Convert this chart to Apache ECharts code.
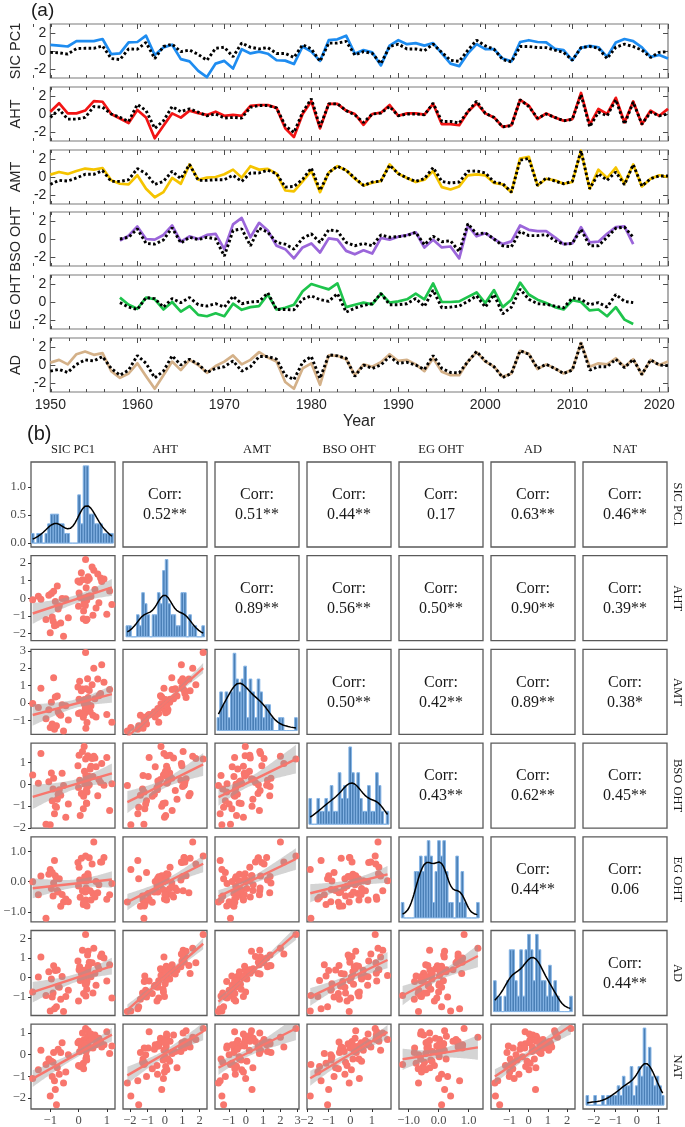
<!DOCTYPE html>
<html>
<head>
<meta charset="utf-8">
<title>SIC PC1 drivers</title>
<script src="https://cdn.jsdelivr.net/npm/echarts@6.0.0/dist/echarts.min.js"></script>
<style>html,body{margin:0;padding:0;background:#fff;}#c{width:685px;height:1127px;}</style>
</head>
<body>
<div id="c"></div>
<script>
// ---------------- Part (a): yearly series ----------------
const yearStartA = 1950;   // SIC PC1, AHT, AMT, AD start
const yearStartOHT = 1958; // BSO OHT, EG OHT start
const xTickYears = [1950, 1960, 1970, 1980, 1990, 2000, 2010, 2020];
const yTicksA = [-2, 0, 2];

const sicLine = [0.69,0.6,0.5,1.1,1.1,1.1,1.33,-0.35,-0.27,0.95, 1.0,1.7,-0.45,0.4,0.7,-0.9,-1.15,-2.2,-2.9,-1.4, -1.1,-1.95,0.2,-0.27,-0.07,-0.3,-1.03,-1.07,-1.45,0.5, -0.07,-1.1,1.2,1.3,1.7,-0.3,0.1,-0.15,-1.6,0.6, 1.2,0.76,0.88,0.6,0.88,-0.27,-1.4,-1.68,-0.27,0.76, 0.2,0.2,-0.84,-1.15,1.0,1.2,1.0,0.95,0.23,0.1, -1.03,0.35,0.57,0.42,-0.65,0.95,1.33,1.1,0.4,-0.65, -0.45,-0.84];
const sicDotted = [-0.15,-0.2,-0.35,0.27,0.3,0.3,0.57,-0.84,-0.95,0.23, 0.2,0.95,-0.84,0.5,0.76,-0.07,0.1,-0.38,-1.03,0.3, 0.42,-0.65,0.88,0.42,0.23,0.38,-0.27,-0.27,-0.72,0.69, 0.23,-1.15,0.88,0.88,1.07,-0.45,-0.07,-0.27,-1.4,0.5, 0.76,0.23,0.23,0.04,0.76,-0.15,-1.03,-1.15,0.1,1.2, 0.57,0.2,-0.95,-1.2,0.5,0.5,0.38,0.38,0.1,-0.15, -1.03,0.38,0.5,0.3,-0.84,0.42,0.76,0.5,0.1,-0.72, -0.15,-0.07];
const ahtLine = [0.26,1.2,0.07,0.07,0.38,1.43,1.36,0,-0.5,-1.0, 0.45,-0.38,-2.7,-1.3,0.07,-0.4,0.38,0.1,-0.1,0.26, -0.2,-0.1,-0.2,0.9,1.0,1.0,0.68,-1.58,-2.57,0, 1.43,-1.6,1.13,1.13,0.38,0,-1.2,0,0.15,1.0, -0.2,0.07,0.07,-0.07,1.13,-1.13,-1.13,-1.25,0.26,1.2, 0.07,-0.38,-1.43,-1.25,1.58,0.94,-0.57,0.07,-0.38,-0.75, -0.57,2.34,-1.2,0.57,0,1.8,-0.94,1.4,-1.13,0.38, -0.2,0.57];
const ahtDotted = [-0.38,0.5,-0.57,-0.57,-0.38,0.83,0.75,0,-0.38,-0.83, 1.06,0.38,-1.6,-0.75,0.83,0.26,0.57,0.2,-0.2,0, -0.45,-0.38,-0.45,0.75,0.94,0.94,0.68,-1.3,-2.07,0.2, 1.7,-1.43,1.13,1.13,0.38,-0.1,-0.94,0,0.1,0.83, -0.2,0,0,-0.1,1.2,-0.83,-0.83,-1.0,0.26,1.43, 0.07,-0.38,-1.43,-1.3,1.58,0.83,-0.45,0,-0.38,-0.75, -0.6,2.15,-1.43,0.2,-0.2,1.58,-1.13,1.32,-1.13,0.2, -0.2,0];
const amtLine = [0.26,0.56,0.34,0.67,0.94,0.82,1.0,-0.37,-0.75,-0.82, 0.19,-1.3,-2.25,-1.68,-0.11,-0.75,1.39,-0.3,-0.07,0, 0.3,0.82,-0.07,1.2,0.82,0.9,0.37,-1.5,-1.6,-0.49, 0.67,-1.68,0.49,1.2,0.75,-0.19,-0.94,-0.64,-0.45,1.39, 0.37,-0.11,-0.56,-0.3,0.67,-1.12,-1.39,-1.05,0.19,0.3, 0.19,-0.67,-0.82,-1.68,2.06,2.25,-0.94,-0.19,-0.37,-0.75, -0.56,2.92,-1.3,0.82,-0.11,1.05,-0.75,1.39,-1.05,-0.19, 0.19,0];
const amtDotted = [-0.82,-0.37,-0.45,-0.11,0.3,0.3,0.71,-0.49,-0.49,-0.3, 0.94,0.37,-0.82,-0.49,0.64,-0.19,1.39,-0.37,-0.37,-0.3, -0.3,0.19,-0.49,0.45,0.45,0.75,0.37,-1.12,-1.05,-0.26, 1.0,-1.5,0.49,1.2,0.75,-0.11,-0.94,-0.56,-0.45,1.31, 0.37,-0.11,-0.49,-0.19,1.05,-0.49,-0.67,-0.56,0.64,0.67, 0.45,-0.56,-0.75,-1.68,1.87,2.06,-0.94,-0.11,-0.45,-0.75, -0.49,2.92,-1.3,0.37,-0.37,0.56,-0.86,1.39,-1.01,-0.19, 0.11,0.11];
const bsoLine = [-0.19,0.38, 1.4,0,-0.07,0.45,1.5,-0.3,0.3,0,0.45,0.57, -1.13,1.62,2.34,0.19,1.8,0.94,-0.75,-1.13,-2.15,-0.94, -0.49,-1.5,0.07,-0.07,-1.32,-1.7,-1.25,-1.62,0.11,-0.07, 0.26,0.45,0.75,-0.94,-0.07,-0.94,-0.83,-2.15,1.5,0.3, 0.64,0,-0.57,-0.26,1.5,1.02,0.87,0.87,0.19,-0.57, -0.49,1.32,-0.38,-0.3,0.57,1.32,1.4,-0.57];
const bsoDotted = [0,0.19, 1.13,-0.49,-0.57,-0.11,1.25,-0.45,0.19,-0.07,0.19,0, -1.89,0.94,1.13,-0.75,1.2,0.75,-0.38,-0.57,-1.13,0.07, 0.57,-0.38,1.02,0.87,-0.38,-0.75,-0.49,-0.75,0.45,0.19, 0.26,0.38,0.75,-0.64,0.3,-0.3,-0.19,-1.4,1.7,0.57, 0.68,0,-0.75,-0.87,0.83,0.38,0.38,0.49,-0.19,-0.57, -0.49,1.06,-0.75,-0.75,0.19,1.2,1.32,0.19];
const egLine = [0.49,-0.3, -0.75,0.49,0.3,-0.83,0,-1.06,-0.45,-1.43,-1.58,-1.25, -1.58,-0.19,-0.87,-0.57,-0.45,0.83,-0.83,-0.64,-0.3,1.2, 2.0,1.7,1.4,2.07,-0.57,-0.3,-0.07,-0.26,0.94,-0.07, 0.07,0.3,0.94,0.3,2.07,0,0,0.07,0.57,1.06, -0.11,1.32,-0.57,0.26,2.15,0.83,0.26,-0.11,-0.57,-0.83, 0.19,0,-0.94,-0.83,-1.58,-0.57,-1.96,-2.45];
const egDotted = [-0.07,-0.57, -0.83,0.49,0.38,-0.57,0.38,-0.07,0.49,-0.3,-0.45,-0.19, -0.57,0.64,-0.19,0,0.07,1.02,-0.83,-0.83,-0.87,0.3, 0.68,0.26,0.07,0.94,-1.13,-0.68,-0.38,-0.19,0.94,-0.3, -0.3,-0.19,0.38,-0.49,1.32,-0.64,-0.57,-0.45,0.07,0.68, -0.57,0.83,-1.32,-0.57,1.43,0.3,-0.19,-0.26,-0.45,-0.64, 0.45,0.3,-0.3,-0.07,-0.57,0.83,0.07,-0.07];
const adLine = [0.26,0.57,0.07,1.2,1.5,1.13,1.32,-0.68,-1.43,-0.94, 0.19,-1.25,-2.64,-1.13,0.38,-0.57,0.57,0,-0.87,-0.11, 0.38,1.06,0.07,0.57,1.43,0.83,0.38,-1.89,-2.64,-0.38, 0.19,-2.2,1.06,1.02,0.64,-1.13,0.07,-0.19,0.3,1.2, 0.45,0.57,0.07,-0.68,0.75,-0.75,-1.13,-1.13,0.38,1.43, 0.38,-0.19,-1.32,-0.94,1.58,1.25,-0.45,0.07,-0.38,-0.94, -0.49,2.45,-0.19,0.19,0.07,0.75,-0.19,0.64,-1.06,0.57, 0,0.38];
const adDotted = [-0.68,-0.49,-0.83,0.07,0.57,0.45,0.94,-0.38,-1.13,-0.57, 1.06,0.19,-1.43,-0.68,1.02,0,0.64,0.11,-0.83,-0.38, -0.19,0.45,-0.68,-0.19,0.94,0.94,0.64,-1.13,-1.62,0.3, 0.94,-1.5,1.13,1.02,0.75,-1.25,0,-0.38,0,0.94, 0.19,0.3,0,-0.49,1.06,-0.38,-0.83,-0.87,0.38,1.5, 0.45,-0.19,-1.4,-0.94,1.58,1.2,-0.38,0.07,-0.38,-0.94, -0.57,2.45,-0.57,-0.19,-0.19,0.64,-0.3,0.64,-1.06,0.57, 0,-0.07];

// ---------------- Part (b): standardized values 1958-2017 ----------------
const sicB = [0.0,0.51, 0.58,1.18,-0.53,0.26,0.33,-0.68,-0.88,-1.42,-1.62,-0.96, -0.82,-1.33,0.2,0.04,0.14,-0.02,-0.75,-0.78,-1.0,0.28, 0.1,-0.85,0.78,0.9,1.1,-0.45,0.17,0.06,-1.05,0.32, 0.72,0.35,0.41,0.29,0.38,-0.36,-0.93,-1.15,0.02,0.34, 0.21,0.22,-0.63,-0.9,0.54,0.82,0.62,0.44,0.24,0.18, -0.72,0.25,0.3,0.27,-0.58,0.48,1.0,0.68];
const ahtB = [-0.45,-0.95, 0.5,-0.35,-2.15,-1.25,0.1,-0.42,0.4,0.12,-0.08,0.28, -0.18,-0.05,-0.22,0.92,1.05,0.98,0.7,-1.5,-1.95,0.02, 1.45,-1.55,1.15,1.1,0.42,-0.02,-1.15,0.05,0.18,1.02, -0.25,0.08,0.15,-0.1,1.12,-1.1,-1.05,-1.2,0.3,1.22, 0.04,-0.35,-1.4,-1.28,1.6,0.95,-0.55,0.1,-0.4,-0.72, -0.6,2.2,-1.18,0.6,0.0,1.78,-0.9,1.38];
const amtB = [-0.6,-0.7, 0.25,-1.1,-1.6,-1.45,-0.05,-0.62,1.45,-0.25,-0.02,0.05, 0.35,0.85,-0.04,1.25,0.8,0.92,0.4,-1.3,-1.4,-0.4, 0.7,-1.5,0.55,1.2,0.78,-0.15,-0.82,-0.55,-0.38,1.4, 0.42,-0.08,-0.48,-0.28,0.72,-0.98,-1.2,-0.9,0.22,0.32, 0.2,-0.58,-0.7,-1.35,2.0,2.2,-0.8,-0.15,-0.32,-0.65, -0.5,2.9,-1.12,0.82,-0.1,1.05,-0.66,1.38];
const bsoB = [-0.15,0.35, 1.2,0.02,-0.05,0.4,1.3,-0.25,0.28,0.05,0.42,0.52, -1.0,1.4,1.72,0.18,1.5,0.85,-0.68,-1.05,-1.85,-0.85, -0.42,-1.35,0.08,-0.04,-1.2,-1.5,-1.12,-1.42,0.12,-0.1, 0.22,0.38,0.7,-0.88,-0.02,-0.9,-0.75,-1.82,1.32,0.25, 0.6,0.0,-0.5,-0.22,1.28,0.95,0.8,0.82,0.15,-0.55, -0.45,1.15,-0.35,-0.28,0.5,1.18,1.22,-0.52];
const egB = [-0.14,-0.39, -0.5,-0.06,-0.67,-0.6,0.26,0.1,-0.04,-0.43,0.0,-0.22, 0.2,0.19,0.03,0.06,-0.3,0.63,-0.29,0.1,0.4,0.02, 0.77,0.7,0.65,0.8,-0.43,-0.57,-0.75,-0.51,0.25,0.17, -0.1,0.1,-0.3,-0.26,0.79,-0.66,0.3,-1.2,0.48,0.2, 0.03,0.16,-0.81,-0.47,1.31,0.65,0.01,-0.6,-0.34,-0.68, -0.34,0.85,-0.8,-0.21,-0.42,0.58,-0.58,-0.36];
const adB = [-1.2,-0.8, 0.22,-1.05,-1.75,-0.95,0.4,-0.5,0.6,0.02,-0.75,-0.08, 0.36,1.05,0.1,0.55,1.4,0.85,0.38,-1.5,-1.72,-0.32, 0.2,-1.6,1.08,1.0,0.65,-0.98,0.08,-0.15,0.3,1.15, 0.45,0.58,0.06,-0.6,0.78,-0.65,-1.0,-0.92,0.4,1.35, 0.37,-0.17,-1.12,-0.8,1.5,1.2,-0.4,0.04,-0.35,-0.82, -0.45,2.2,-0.2,0.18,0.05,0.75,-0.18,0.62];
const natB = [-0.5,0.3, 0.9,0.4,-1.3,-0.2,0.85,-0.9,0.1,-0.7,-1.1,-0.3, -1.6,0.2,0.7,0.15,1.0,0.55,-0.6,-2.3,-1.9,-0.1, 0.35,-1.2,0.6,0.45,0.05,-0.8,-0.4,-0.55,-0.2,0.5, 0.75,0.4,0.65,-0.25,0.3,0.0,-1.0,-0.45,0.62,1.1, 0.2,0.5,0.1,-0.35,0.8,0.35,0.45,0.95,0.4,-0.65, 0.25,1.2,0.3,0.15,0.55,0.7,1.05,0.58];

const varNames = ['SIC PC1', 'AHT', 'AMT', 'BSO OHT', 'EG OHT', 'AD', 'NAT'];
const varTicks = [[-1,0,1], [-2,-1,0,1,2], [-1,0,1,2,3], [-2,-1,0,1], [-1,0,1], [-1,0,1,2], [-2,-1,0,1]];
const varTickDecimals = [0, 0, 0, 0, 1, 0, 0];
const densityTicks = [0, 0.5, 1.0];
const corrRows = [
  ['0.52**','0.51**','0.44**','0.17','0.63**','0.46**'],
  ['0.89**','0.56**','0.50**','0.90**','0.39**'],
  ['0.50**','0.42**','0.89**','0.38*'],
  ['0.43**','0.62**','0.45**'],
  ['0.44**','0.06'],
  ['0.44**']
];

// ---------------- helpers ----------------
const pairs = (arr, start) => arr.map((v, i) => [start + i, v]);
const mean = a => a.reduce((s, v) => s + v, 0) / a.length;
const sdev = a => { const m = mean(a); return Math.sqrt(a.reduce((s, v) => s + (v - m) * (v - m), 0) / (a.length - 1)); };
function quantile(a, p) { const s = [...a].sort((x, y) => x - y); const h = (s.length - 1) * p; const lo = Math.floor(h); const hi = Math.min(lo + 1, s.length - 1); return s[lo] + (h - lo) * (s[hi] - s[lo]); }
function kde(a) {
  const n = a.length;
  const bw = 0.9 * Math.min(sdev(a), (quantile(a, 0.75) - quantile(a, 0.25)) / 1.34) * Math.pow(n, -0.2);
  const mn = Math.min(...a), mx = Math.max(...a), out = [];
  for (let i = 0; i <= 120; i++) {
    const x = mn + (mx - mn) * i / 120; let s = 0;
    for (const v of a) { const z = (x - v) / bw; s += Math.exp(-0.5 * z * z); }
    out.push([x, s / (n * bw * Math.sqrt(2 * Math.PI))]);
  }
  return out;
}
function hist(a, bins) {
  const mn = Math.min(...a), mx = Math.max(...a), n = a.length;
  const w = (mx - mn) / (bins - 1), start = mn - w / 2;
  const counts = new Array(bins).fill(0);
  for (const v of a) { let k = Math.ceil((v - start) / w - 1e-9) - 1; k = Math.max(0, Math.min(bins - 1, k)); counts[k]++; }
  return counts.map((c, k) => [start + k * w, start + (k + 1) * w, c / (n * w)]);
}
function regression(xs, ys) {
  const n = xs.length, mx = mean(xs), my = mean(ys);
  let sxx = 0, sxy = 0;
  for (let i = 0; i < n; i++) { sxx += (xs[i] - mx) ** 2; sxy += (xs[i] - mx) * (ys[i] - my); }
  const b = sxy / sxx, a0 = my - b * mx;
  let sse = 0; for (let i = 0; i < n; i++) sse += (ys[i] - a0 - b * xs[i]) ** 2;
  const s = Math.sqrt(sse / (n - 2)), t = 2.0017;
  const x0 = Math.min(...xs), x1 = Math.max(...xs);
  const up = [], lo = [];
  for (let i = 0; i <= 60; i++) {
    const x = x0 + (x1 - x0) * i / 60, yh = a0 + b * x;
    const se = s * Math.sqrt(1 / n + (x - mx) ** 2 / sxx);
    up.push([x, yh + t * se]); lo.push([x, yh - t * se]);
  }
  return { line: [[x0, a0 + b * x0], [x1, a0 + b * x1]], poly: up.concat(lo.reverse()), center: [mx, my] };
}
const fmtDec = d => v => (v < 0 ? '\u2212' : '') + Math.abs(v).toFixed(d);

const grids = [], xAxes = [], yAxes = [], series = [], graphics = [];
const SANS = '"Liberation Sans", Arial, sans-serif';
const SERIF = '"Liberation Serif", "Times New Roman", serif';
const noLine = { show: false, onZero: false };

// ---------------- Part (a) layout ----------------
const A = { left: 33, width: 635, height: 54, tops: [24, 87, 150, 212, 275, 338] };
const aPanels = [
  { label: 'SIC PC1', color: '#1e8cf0', line: sicLine, dots: sicDotted, start: yearStartA },
  { label: 'AHT', color: '#f21414', line: ahtLine, dots: ahtDotted, start: yearStartA },
  { label: 'AMT', color: '#f5c400', line: amtLine, dots: amtDotted, start: yearStartA },
  { label: 'BSO OHT', color: '#9b66da', line: bsoLine, dots: bsoDotted, start: yearStartOHT },
  { label: 'EG OHT', color: '#1ec44c', line: egLine, dots: egDotted, start: yearStartOHT },
  { label: 'AD', color: '#d4b189', line: adLine, dots: adDotted, start: yearStartA }
];
const tickCol = '#4d4d4d';
aPanels.forEach((p, k) => {
  const last = k === aPanels.length - 1;
  const top = A.tops[k];
  const g = grids.length;
  grids.push({ left: A.left, top, width: A.width, height: A.height, show: true, borderColor: '#7a7a7a', borderWidth: 1.2 });
  const xb = { gridIndex: g, type: 'value', min: 1950, max: 2021, interval: 10, splitLine: { show: false }, axisLine: noLine };
  const xi = xAxes.length;
  xAxes.push(Object.assign({}, xb, {
    position: 'bottom',
    axisTick: { inside: true, length: 5, lineStyle: { color: tickCol, width: 1 } },
    axisLabel: { show: last, formatter: v => (xTickYears.includes(v) ? String(v) : ''), fontFamily: SANS, fontSize: 14, color: '#262626', margin: 6 },
    name: last ? 'Year' : '', nameLocation: 'middle', nameGap: 22,
    nameTextStyle: { fontFamily: SANS, fontSize: 16, color: '#262626' }
  }));
  xAxes.push(Object.assign({}, xb, { position: 'top', axisTick: { inside: true, length: 5, lineStyle: { color: tickCol } }, axisLabel: { show: false } }));
  const yi = yAxes.length;
  yAxes.push({ gridIndex: g, type: 'value', min: -3, max: 3, position: 'left', splitLine: { show: false }, axisLine: noLine,
    axisTick: { inside: true, length: 5, customValues: yTicksA, lineStyle: { color: tickCol } },
    axisLabel: { customValues: yTicksA, fontFamily: SANS, fontSize: 14, color: '#262626', margin: 4, formatter: v => String(v) },
    name: p.label, nameLocation: 'middle', nameGap: 19, nameRotate: 90,
    nameTextStyle: { fontFamily: SANS, fontSize: 14.5, color: '#262626' } });
  yAxes.push({ gridIndex: g, type: 'value', min: -3, max: 3, position: 'right', splitLine: { show: false }, axisLine: noLine,
    axisTick: { inside: true, length: 5, customValues: yTicksA, lineStyle: { color: tickCol } }, axisLabel: { show: false } });
  const g2 = grids.length;
  grids.push({ left: A.left, top, width: A.width, height: A.height, show: false });
  const xm = { gridIndex: g2, type: 'value', min: 1950, max: 2021, interval: 2, splitLine: { show: false }, axisLine: noLine, axisLabel: { show: false },
    axisTick: { inside: true, length: 3, lineStyle: { color: tickCol } } };
  xAxes.push(Object.assign({}, xm, { position: 'bottom' }));
  xAxes.push(Object.assign({}, xm, { position: 'top' }));
  yAxes.push({ gridIndex: g2, type: 'value', min: -3, max: 3, show: false, axisLine: noLine });

  series.push({ type: 'line', xAxisIndex: xi, yAxisIndex: yi, data: pairs(p.line, p.start), showSymbol: false, symbol: 'none',
    lineStyle: { color: p.color, width: 2.7, join: 'round' }, z: 2, silent: true });
  series.push({ type: 'line', xAxisIndex: xi, yAxisIndex: yi, data: pairs(p.dots, p.start), showSymbol: false, symbol: 'none',
    lineStyle: { color: '#000', width: 2.9, type: [2.6, 2.4], cap: 'butt' }, z: 3, silent: true });
});

graphics.push({ type: 'text', x: 31, y: 11, style: { text: '(a)', font: '19px ' + SANS, fill: '#1a1a1a', textAlign: 'left', textVerticalAlign: 'middle' } });
graphics.push({ type: 'text', x: 27, y: 434, style: { text: '(b)', font: '20px ' + SANS, fill: '#1a1a1a', textAlign: 'left', textVerticalAlign: 'middle' } });

// ---------------- Part (b) layout ----------------
const B = { left0: 31, dx: 92, top0: 462, dy: 93.7, w: 84, h: 85 };
const bData = [sicB, ahtB, amtB, bsoB, egB, adB, natB];
const bRanges = [[-1.68, 1.29], [-2.4, 2.42], [-1.8, 3.08], [-2.0, 1.88], [-1.32, 1.48], [-1.95, 2.41], [-2.5, 1.4]];
const labelStyle = { fontFamily: SERIF, fontSize: 12.5, color: '#4d4d4d' };

for (let r = 0; r < 7; r++) {
  for (let c = 0; c < 7; c++) {
    const left = B.left0 + c * B.dx, top = B.top0 + r * B.dy;
    const g = grids.length;
    grids.push({ left, top, width: B.w, height: B.h, show: true, borderColor: '#5a5a5a', borderWidth: 1.3 });
    const xi = xAxes.length, yi = yAxes.length;
    if (c > r) {
      xAxes.push({ gridIndex: g, type: 'value', min: 0, max: 1, show: false, axisLine: noLine });
      yAxes.push({ gridIndex: g, type: 'value', min: 0, max: 1, show: false, axisLine: noLine });
      graphics.push({ type: 'text', x: left + B.w / 2, y: top + 33, style: { text: 'Corr:', font: '16px ' + SERIF, fill: '#1a1a1a', textAlign: 'center', textVerticalAlign: 'middle' } });
      graphics.push({ type: 'text', x: left + B.w / 2, y: top + 53, style: { text: corrRows[r][c - r - 1], font: '16px ' + SERIF, fill: '#1a1a1a', textAlign: 'center', textVerticalAlign: 'middle' } });
      continue;
    }
    const bottom = r === 6, first = c === 0;
    xAxes.push({ gridIndex: g, type: 'value', min: bRanges[c][0], max: bRanges[c][1], splitLine: { show: false }, axisLine: noLine,
      axisTick: { show: bottom, customValues: varTicks[c], length: 3, lineStyle: { color: '#333' } },
      axisLabel: Object.assign({ show: bottom, customValues: varTicks[c], formatter: fmtDec(varTickDecimals[c]), margin: 5 }, labelStyle) });
    if (r === c) {
      const h = hist(bData[c], 30);
      const kd = kde(bData[c]);
      const M = Math.max(...h.map(b => b[2]), ...kd.map(p => p[1]));
      yAxes.push({ gridIndex: g, type: 'value', min: -0.05 * M, max: 1.05 * M, splitLine: { show: false }, axisLine: noLine,
        axisTick: { show: r === 0, customValues: densityTicks, length: 3, lineStyle: { color: '#333' } },
        axisLabel: Object.assign({ show: r === 0, customValues: densityTicks, formatter: fmtDec(1), margin: 5 }, labelStyle) });
      series.push({ type: 'custom', xAxisIndex: xi, yAxisIndex: yi, data: h, clip: true, silent: true,
        encode: { x: [0, 1], y: 2 },
        renderItem: (params, api) => {
          const p0 = api.coord([api.value(0), 0]);
          const p1 = api.coord([api.value(1), api.value(2)]);
          return { type: 'rect', shape: { x: p0[0], y: p1[1], width: p1[0] - p0[0], height: p0[1] - p1[1] },
            style: { fill: '#4a7fb6', stroke: '#86b5e6', lineWidth: 1 } };
        } });
      series.push({ type: 'line', xAxisIndex: xi, yAxisIndex: yi, data: kd, showSymbol: false, symbol: 'none', silent: true,
        lineStyle: { color: '#000', width: 1.5 }, z: 3 });
    } else {
      yAxes.push({ gridIndex: g, type: 'value', min: bRanges[r][0], max: bRanges[r][1], splitLine: { show: false }, axisLine: noLine,
        axisTick: { show: first, customValues: varTicks[r], length: 3, lineStyle: { color: '#333' } },
        axisLabel: Object.assign({ show: first, customValues: varTicks[r], formatter: fmtDec(varTickDecimals[r]), margin: 5 }, labelStyle) });
      const xs = bData[c], ys = bData[r];
      const pts = xs.map((x, i) => [x, ys[i]]);
      const reg = regression(xs, ys);
      series.push({ type: 'scatter', xAxisIndex: xi, yAxisIndex: yi, data: pts, symbolSize: 7, silent: true,
        itemStyle: { color: '#F8766D', opacity: 1 }, z: 2 });
      series.push({ type: 'custom', xAxisIndex: xi, yAxisIndex: yi, data: [reg.center], clip: true, silent: true, z: 3,
        renderItem: (params, api) => ({ type: 'polygon', shape: { points: reg.poly.map(p => api.coord(p)) },
          style: { fill: 'rgba(153,153,153,0.42)' } }) });
      series.push({ type: 'line', xAxisIndex: xi, yAxisIndex: yi, data: reg.line, showSymbol: false, symbol: 'none', silent: true, z: 4,
        lineStyle: { color: '#F8766D', width: 2.4 } });
    }
  }
  graphics.push({ type: 'text', x: 677, y: B.top0 + r * B.dy + B.h / 2, rotation: -Math.PI / 2,
    style: { text: varNames[r], font: '12.5px ' + SERIF, fill: '#1a1a1a', textAlign: 'center', textVerticalAlign: 'middle' } });
}
for (let c = 0; c < 7; c++) {
  graphics.push({ type: 'text', x: B.left0 + c * B.dx + B.w / 2, y: 450,
    style: { text: varNames[c], font: '12.5px ' + SERIF, fill: '#1a1a1a', textAlign: 'center', textVerticalAlign: 'middle' } });
}

const chart = echarts.init(document.getElementById('c'), null, { renderer: 'canvas', width: 685, height: 1127 });
chart.setOption({
  animation: false,
  backgroundColor: '#ffffff',
  grid: grids,
  xAxis: xAxes,
  yAxis: yAxes,
  series: series,
  graphic: { elements: graphics }
});
</script>
</body>
</html>
